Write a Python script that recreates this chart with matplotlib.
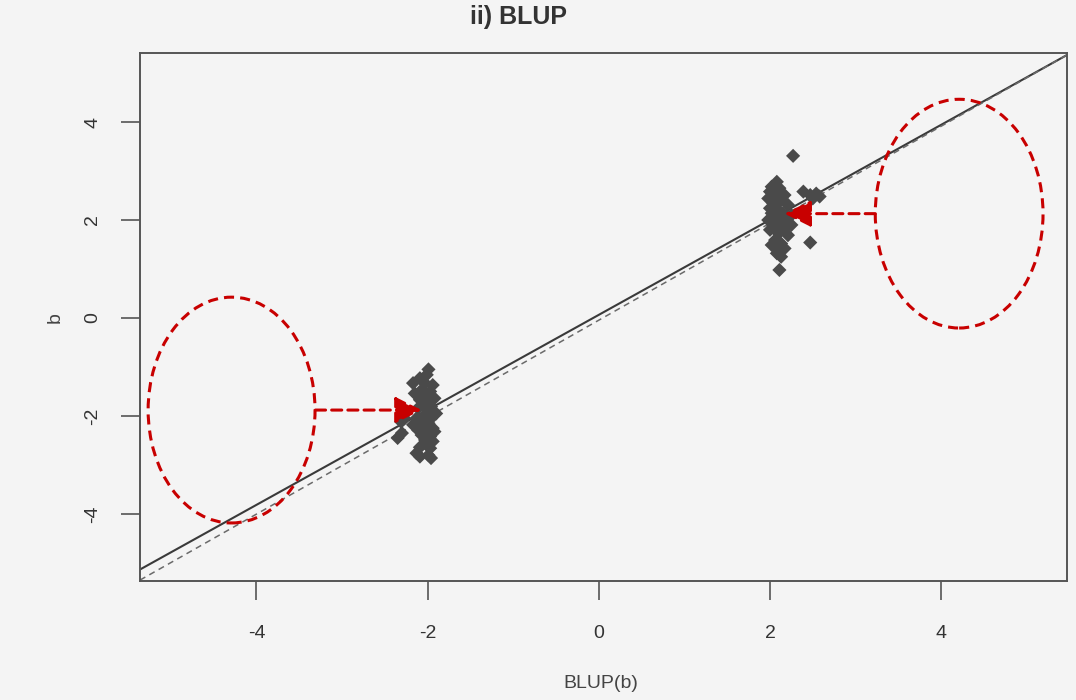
import matplotlib
matplotlib.use("Agg")
import matplotlib.pyplot as plt
from matplotlib.patches import Ellipse
from matplotlib import font_manager

# ---------------- data ----------------
left_x = [-1.99, -2.01, -2.09, -2.17, -2.03, -1.94, -2.07, -1.97, -2.15, -2.01, -1.92,
          -2.09, -1.99, -2.05, -1.96, -2.11, -1.99, -1.90, -2.03, -2.13, -1.96, -2.27,
          -2.31, -2.07, -1.99, -2.17, -2.05, -1.94, -2.11, -2.01, -1.92, -2.07, -1.97,
          -2.03, -1.94, -2.01, -2.09, -1.97, -2.13, -1.99, -2.09, -1.96, -2.35, -2.30]
left_y = [-1.05, -1.16, -1.23, -1.33, -1.33, -1.37, -1.47, -1.50, -1.54, -1.61, -1.64,
          -1.67, -1.71, -1.78, -1.81, -1.84, -1.91, -1.95, -1.98, -2.05, -2.05, -2.05,
          -2.12, -2.12, -2.15, -2.18, -2.22, -2.25, -2.29, -2.32, -2.32, -2.39, -2.42,
          -2.49, -2.52, -2.59, -2.64, -2.66, -2.76, -2.80, -2.83, -2.86, -2.45, -2.35]

right_x = [2.27, 2.08, 2.02, 2.11, 2.00, 2.17, 2.06, 1.98, 2.13, 2.04, 2.21, 2.00,
           2.10, 2.02, 2.15, 2.25, 2.06, 1.98, 2.19, 2.11, 2.04, 2.25, 2.17, 2.00,
           2.10, 2.21, 2.06, 2.13, 2.02, 2.10, 2.17, 2.08, 2.13, 2.11,
           2.39, 2.47, 2.54, 2.58, 2.50, 2.47]
right_y = [3.31, 2.78, 2.68, 2.65, 2.58, 2.51, 2.48, 2.44, 2.41, 2.34, 2.31, 2.24,
           2.20, 2.14, 2.14, 2.10, 2.03, 2.00, 2.00, 1.93, 1.86, 1.90, 1.83, 1.80,
           1.73, 1.69, 1.59, 1.52, 1.49, 1.42, 1.42, 1.32, 1.25, 0.98,
           2.58, 2.51, 2.54, 2.48, 2.44, 1.54]

# fitted (solid) and reference (dashed) lines: intercept, slope
fit_line = [0.064, 0.970]
ident_line = [-0.045, 0.990]

# annotation ellipses: centre x, centre y, width, height
ellipse_left = [-4.29, -1.88, 1.95, 4.61]
ellipse_right = [4.21, 2.13, 1.96, 4.67]
# arrows: start x, tip x, y
arrow_left = [-3.31, -2.07, -1.88]
arrow_right = [3.23, 2.17, 2.13]

xticks = [-4, -2, 0, 2, 4]
yticks = [-4, -2, 0, 2, 4]
title = "ii) BLUP"
xlabel = "BLUP(b)"
ylabel = "b"

# ---------------- style ----------------
names = {f.name for f in font_manager.fontManager.ttflist}
fam = ["Liberation Sans Narrow", "Liberation Sans", "DejaVu Sans"]
fam = [f for f in fam if f in names] or ["DejaVu Sans"]
plt.rcParams["font.family"] = fam

bg = "#f4f4f4"
red = "#c80000"
ink = "#4a4a4a"

fig = plt.figure(figsize=(10.76, 7.0), dpi=100, facecolor=bg)
ax = fig.add_axes([140 / 1076, 1 - 581 / 700, (1067 - 140) / 1076, (581 - 53) / 700])
ax.set_facecolor(bg)

ax.set_xlim(-5.36, 5.47)
ax.set_ylim(-5.37, 5.41)

ax.axline((0, fit_line[0]), slope=fit_line[1], color="#3a3a3a", lw=1.5, zorder=2)
ax.axline((0, ident_line[0]), slope=ident_line[1], color="#6a6a6a", lw=1.1,
          linestyle=(0, (4, 3)), zorder=2)

ax.scatter(left_x + right_x, left_y + right_y, marker="D", s=52, color=ink,
           edgecolors="none", zorder=3)

for e in (ellipse_left, ellipse_right):
    ax.add_patch(Ellipse((e[0], e[1]), e[2], e[3], fill=False, edgecolor=red,
                         lw=2.2, linestyle=(0, (3.3, 2.0)), zorder=4))

for a in (arrow_left, arrow_right):
    ax.annotate("", xy=(a[1], a[2]), xytext=(a[0], a[2]),
                arrowprops=dict(arrowstyle="-|>,head_length=0.9,head_width=0.45",
                                color=red, lw=2.2, linestyle=(0, (3.3, 2.0)),
                                shrinkA=0, shrinkB=0, mutation_scale=18),
                zorder=5)

for s in ax.spines.values():
    s.set_color("#555555")
    s.set_linewidth(1.4)

ax.set_xticks(xticks)
ax.set_yticks(yticks)
ax.set_xticklabels([str(t) for t in xticks])
ax.set_yticklabels([str(t) for t in yticks], rotation=90, va="center")
ax.tick_params(axis="both", direction="out", length=14, width=1.2, color="#555555",
               labelcolor="#333333", labelsize=14)
ax.tick_params(axis="x", pad=18)
ax.tick_params(axis="y", pad=14)

fig.text(518 / 1076, 1 - 17 / 700, title, ha="center", va="center",
         fontsize=18, fontweight="bold", color="#333333")
fig.text(601 / 1076, 1 - 683 / 700, xlabel, ha="center", va="center",
         fontsize=14, color="#444444")
fig.text(55 / 1076, 1 - 318 / 700, ylabel, ha="center", va="center",
         fontsize=14, color="#444444", rotation=90)

fig.savefig("out.png", dpi=100, facecolor=bg)
